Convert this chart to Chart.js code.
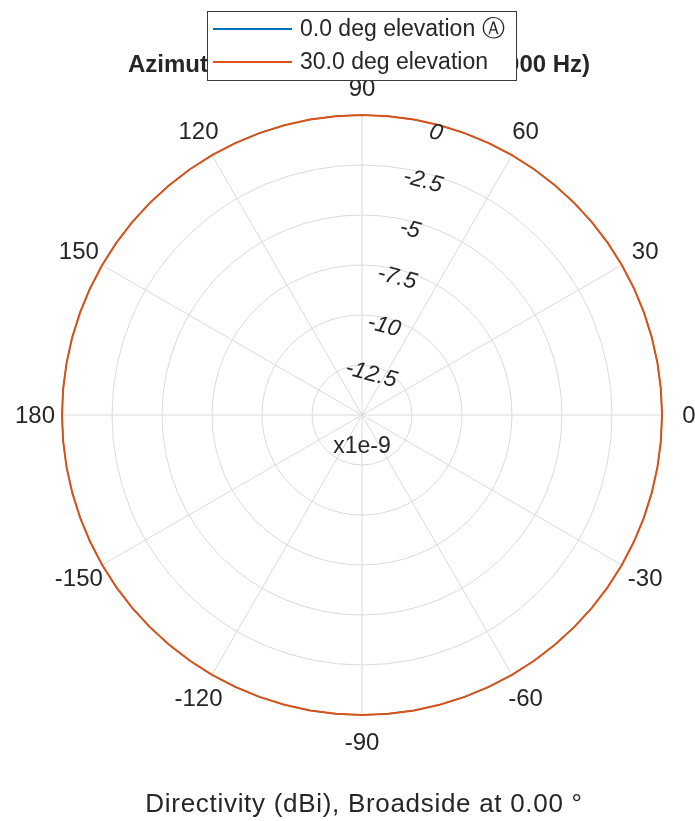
<!DOCTYPE html>
<html>
<head>
<meta charset="utf-8">
<script src="https://cdn.jsdelivr.net/npm/chart.js@4/dist/chart.umd.min.js"></script>
<style>
  html, body { margin: 0; padding: 0; background: #fff; }
  canvas { display: block; }
</style>
</head>
<body>
<canvas id="pattern" width="695" height="821"></canvas>
<script>
// azimuth (deg), in the clockwise order the radial scale walks them, starting at 0
const azimuth = [
    0, -5, -10, -15, -20, -25, -30, -35, -40, -45, -50, -55,
    -60, -65, -70, -75, -80, -85, -90, -95, -100, -105, -110, -115,
    -120, -125, -130, -135, -140, -145, -150, -155, -160, -165, -170, -175,
    180, 175, 170, 165, 160, 155, 150, 145, 140, 135, 130, 125,
    120, 115, 110, 105, 100, 95, 90, 85, 80, 75, 70, 65,
    60, 55, 50, 45, 40, 35, 30, 25, 20, 15, 10, 5
];

// directivity, in units of 1e-9 dBi
const dirElev0 = [
    0, 0, 0, 0, 0, 0, 0, 0, 0, 0, 0, 0,
    0, 0, 0, 0, 0, 0, 0, 0, 0, 0, 0, 0,
    0, 0, 0, 0, 0, 0, 0, 0, 0, 0, 0, 0,
    0, 0, 0, 0, 0, 0, 0, 0, 0, 0, 0, 0,
    0, 0, 0, 0, 0, 0, 0, 0, 0, 0, 0, 0,
    0, 0, 0, 0, 0, 0, 0, 0, 0, 0, 0, 0
];
const dirElev30 = [
    0, 0, 0, 0, 0, 0, 0, 0, 0, 0, 0, 0,
    0, 0, 0, 0, 0, 0, 0, 0, 0, 0, 0, 0,
    0, 0, 0, 0, 0, 0, 0, 0, 0, 0, 0, 0,
    0, 0, 0, 0, 0, 0, 0, 0, 0, 0, 0, 0,
    0, 0, 0, 0, 0, 0, 0, 0, 0, 0, 0, 0,
    0, 0, 0, 0, 0, 0, 0, 0, 0, 0, 0, 0
];

const seriesNames = ['0.0 deg elevation \u24B6', '30.0 deg elevation'];
const seriesColors = ['#0072BD', '#D95319'];
const angleTicks = [0, 30, 60, 90, 120, 150, 180, -150, -120, -90, -60, -30];
const radialTicks = [0, -2.5, -5, -7.5, -10, -12.5];
const rLabelAngle = 75;

const TEXT = '#262626';
const GRID = '#dadada';
const FONT = '"Liberation Sans", Arial, Helvetica, sans-serif';

// title, legend, tick labels and axis caption drawn the way MATLAB's polarpattern lays them out
const decorations = {
    id: 'decorations',
    afterDraw(chart) {
        const ctx = chart.ctx;
        const r = chart.scales.r;
        ctx.save();
        ctx.fillStyle = TEXT;
        ctx.textAlign = 'center';
        ctx.textBaseline = 'middle';

        // angle labels
        ctx.font = '24px ' + FONT;
        angleTicks.forEach(a => {
            const p = r.getPointPosition(azimuth.indexOf(a), r.drawingArea + 27);
            ctx.fillText(String(a), p.x, p.y + 1);
        });

        // magnitude labels along 75 deg
        ctx.font = 'italic 23px ' + FONT;
        const idx = azimuth.indexOf(rLabelAngle);
        radialTicks.forEach(v => {
            const p = r.getPointPosition(idx, r.getDistanceFromCenterForValue(v) - 7);
            ctx.save();
            ctx.translate(p.x - 2, p.y + 1);
            ctx.rotate((90 - rLabelAngle) * Math.PI / 180);
            ctx.fillText(String(v), 0, 0);
            ctx.restore();
        });

        ctx.font = '23px ' + FONT;
        ctx.fillText('x1e-9', r.xCenter, r.yCenter + 32);

        // caption
        ctx.font = '26px ' + FONT;
        ctx.letterSpacing = '0.7px';
        ctx.fillText('Directivity (dBi), Broadside at 0.00 \u00B0', 364, 805);
        ctx.letterSpacing = '0px';

        // title (the legend sits over it)
        ctx.font = 'bold 24px ' + FONT;
        ctx.textBaseline = 'alphabetic';
        ctx.fillText('Azimuth Cut (frequency = 300000000 Hz)', 359, 72);

        // legend
        ctx.fillStyle = '#fff';
        ctx.fillRect(207, 11, 310, 70);
        ctx.strokeStyle = '#3a3a3a';
        ctx.lineWidth = 1;
        ctx.strokeRect(207.5, 11.5, 309, 69);
        ctx.font = '23px ' + FONT;
        ctx.textAlign = 'left';
        ctx.textBaseline = 'middle';
        seriesNames.forEach((name, i) => {
            const y = 29 + i * 33;
            ctx.strokeStyle = seriesColors[i];
            ctx.lineWidth = 2;
            ctx.beginPath();
            ctx.moveTo(213, y);
            ctx.lineTo(292, y);
            ctx.stroke();
            ctx.fillStyle = TEXT;
            ctx.fillText(name, 300, y + 1);
        });
        ctx.restore();
    }
};

new Chart(document.getElementById('pattern'), {
    type: 'radar',
    data: {
        labels: azimuth,
        datasets: [
            { label: seriesNames[0], data: dirElev0, borderColor: seriesColors[0], borderWidth: 1.2, order: 1 },
            { label: seriesNames[1], data: dirElev30, borderColor: seriesColors[1], borderWidth: 2, order: 0 }
        ]
    },
    options: {
        responsive: false,
        animation: false,
        events: [],
        layout: { padding: { left: 62, right: 33, top: 115, bottom: 106 } },
        elements: {
            line: { fill: false, tension: 0 },
            point: { radius: 0 }
        },
        plugins: { legend: { display: false }, title: { display: false }, tooltip: { enabled: false } },
        scales: {
            r: {
                min: -15,
                max: 0,
                startAngle: 90,
                ticks: { display: false, stepSize: 2.5 },
                grid: { circular: true, color: GRID, lineWidth: 1 },
                angleLines: {
                    color: ctx => (azimuth[ctx.index] % 30 === 0 ? GRID : 'rgba(0,0,0,0)'),
                    lineWidth: 1
                },
                pointLabels: { display: false }
            }
        }
    },
    plugins: [decorations]
});
</script>
</body>
</html>
